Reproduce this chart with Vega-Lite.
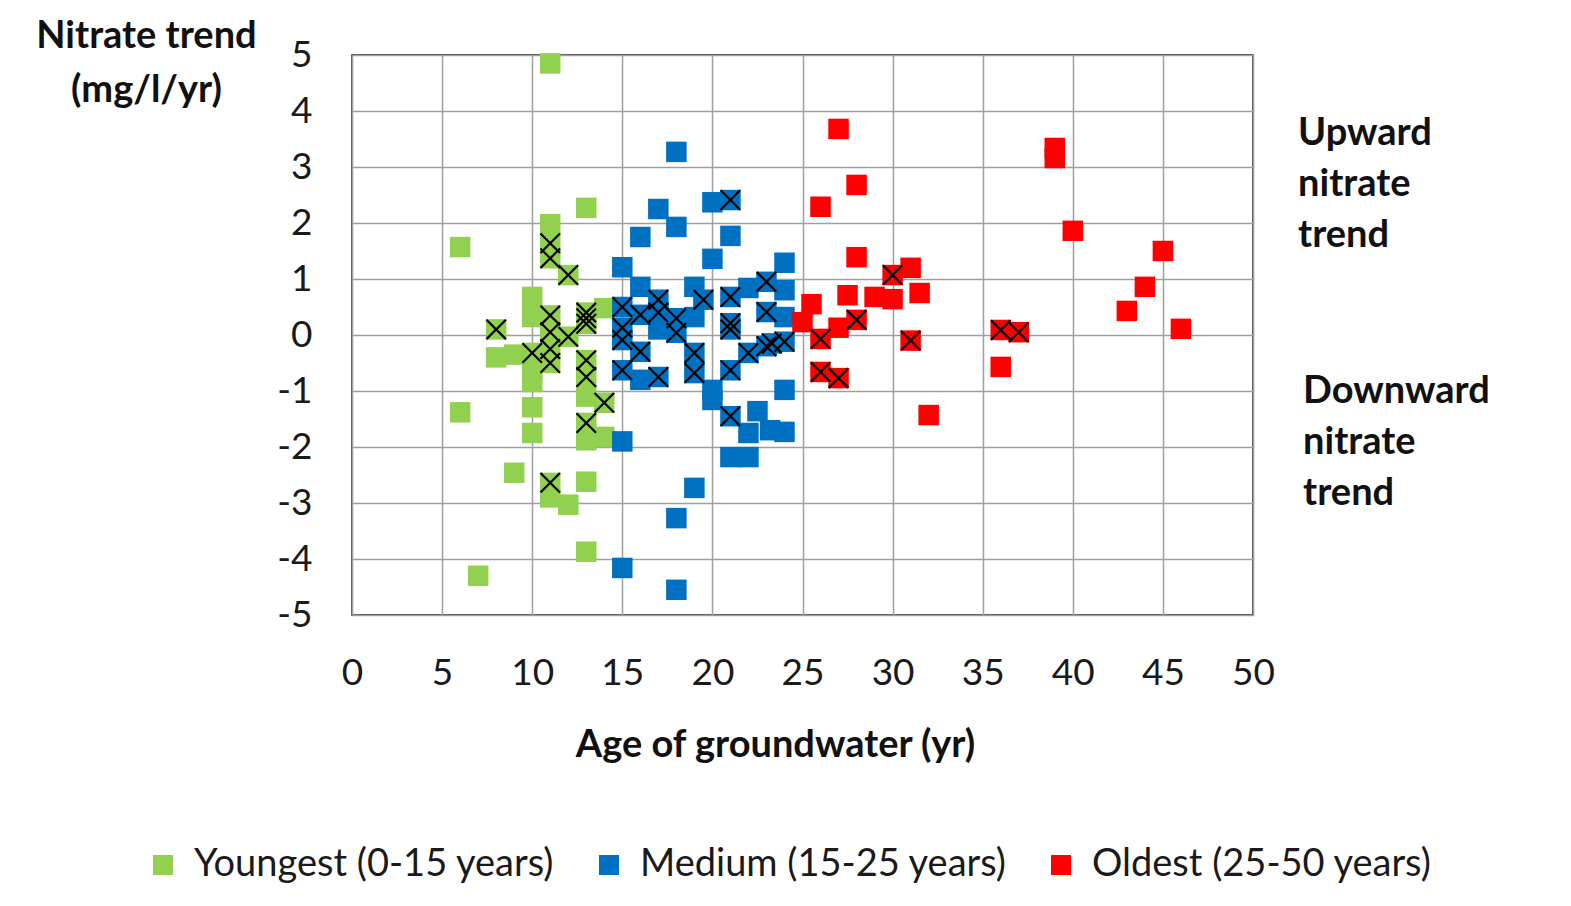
{
  "$schema": "https://vega.github.io/schema/vega-lite/v6.json",
  "width": 901,
  "height": 560,
  "autosize": {"type": "none"},
  "padding": {"left": 352, "top": 55, "right": 318, "bottom": 291},
  "background": "white",
  "config": {
    "font": "Lato",
    "view": {"stroke": "#1a1a1a", "strokeWidth": 1.5},
    "axis": {
      "domain": false,
      "ticks": false,
      "tickSize": 0,
      "labelFlush": false,
      "labelOverlap": false,
      "gridColor": "#9e9e9e",
      "gridWidth": 1.5,
      "gridOpacity": 1,
      "labelFont": "Lato",
      "labelFontSize": 37,
      "labelColor": "#1a1a1a",
      "titleFont": "Lato",
      "titleFontWeight": "bold",
      "titleFontSize": 38,
      "titleColor": "#111111"
    }
  },
  "datasets": {
    "pts": [
      {"age": 11, "trend": 4.85, "flag": 0, "group": "Youngest (0-15 years)"},
      {"age": 6, "trend": 1.57, "flag": 0, "group": "Youngest (0-15 years)"},
      {"age": 6, "trend": -1.38, "flag": 0, "group": "Youngest (0-15 years)"},
      {"age": 7, "trend": -4.3, "flag": 0, "group": "Youngest (0-15 years)"},
      {"age": 8, "trend": 0.1, "flag": 1, "group": "Youngest (0-15 years)"},
      {"age": 8, "trend": -0.4, "flag": 0, "group": "Youngest (0-15 years)"},
      {"age": 9, "trend": -0.35, "flag": 0, "group": "Youngest (0-15 years)"},
      {"age": 9, "trend": -2.46, "flag": 0, "group": "Youngest (0-15 years)"},
      {"age": 10, "trend": 0.68, "flag": 0, "group": "Youngest (0-15 years)"},
      {"age": 10, "trend": 0.32, "flag": 0, "group": "Youngest (0-15 years)"},
      {"age": 10, "trend": -0.32, "flag": 1, "group": "Youngest (0-15 years)"},
      {"age": 10, "trend": -0.63, "flag": 0, "group": "Youngest (0-15 years)"},
      {"age": 10, "trend": -0.84, "flag": 0, "group": "Youngest (0-15 years)"},
      {"age": 10, "trend": -1.29, "flag": 0, "group": "Youngest (0-15 years)"},
      {"age": 10, "trend": -1.75, "flag": 0, "group": "Youngest (0-15 years)"},
      {"age": 11, "trend": 1.98, "flag": 0, "group": "Youngest (0-15 years)"},
      {"age": 11, "trend": 1.64, "flag": 1, "group": "Youngest (0-15 years)"},
      {"age": 11, "trend": 1.37, "flag": 1, "group": "Youngest (0-15 years)"},
      {"age": 11, "trend": 0.35, "flag": 1, "group": "Youngest (0-15 years)"},
      {"age": 11, "trend": 0.05, "flag": 1, "group": "Youngest (0-15 years)"},
      {"age": 11, "trend": -0.25, "flag": 1, "group": "Youngest (0-15 years)"},
      {"age": 11, "trend": -0.5, "flag": 1, "group": "Youngest (0-15 years)"},
      {"age": 11, "trend": -2.64, "flag": 1, "group": "Youngest (0-15 years)"},
      {"age": 11, "trend": -2.9, "flag": 0, "group": "Youngest (0-15 years)"},
      {"age": 12, "trend": 1.07, "flag": 1, "group": "Youngest (0-15 years)"},
      {"age": 12, "trend": -0.03, "flag": 1, "group": "Youngest (0-15 years)"},
      {"age": 12, "trend": -3.03, "flag": 0, "group": "Youngest (0-15 years)"},
      {"age": 13, "trend": 2.27, "flag": 0, "group": "Youngest (0-15 years)"},
      {"age": 13, "trend": 0.4, "flag": 1, "group": "Youngest (0-15 years)"},
      {"age": 13, "trend": 0.3, "flag": 1, "group": "Youngest (0-15 years)"},
      {"age": 13, "trend": 0.2, "flag": 1, "group": "Youngest (0-15 years)"},
      {"age": 13, "trend": -0.45, "flag": 1, "group": "Youngest (0-15 years)"},
      {"age": 13, "trend": -0.75, "flag": 1, "group": "Youngest (0-15 years)"},
      {"age": 13, "trend": -1.1, "flag": 0, "group": "Youngest (0-15 years)"},
      {"age": 13, "trend": -1.57, "flag": 1, "group": "Youngest (0-15 years)"},
      {"age": 13, "trend": -1.88, "flag": 0, "group": "Youngest (0-15 years)"},
      {"age": 13, "trend": -2.62, "flag": 0, "group": "Youngest (0-15 years)"},
      {"age": 13, "trend": -3.87, "flag": 0, "group": "Youngest (0-15 years)"},
      {"age": 14, "trend": 0.48, "flag": 0, "group": "Youngest (0-15 years)"},
      {"age": 14, "trend": -1.21, "flag": 1, "group": "Youngest (0-15 years)"},
      {"age": 14, "trend": -1.82, "flag": 0, "group": "Youngest (0-15 years)"},

      {"age": 18, "trend": 3.27, "flag": 0, "group": "Medium (15-25 years)"},
      {"age": 17, "trend": 2.25, "flag": 0, "group": "Medium (15-25 years)"},
      {"age": 18, "trend": 1.93, "flag": 0, "group": "Medium (15-25 years)"},
      {"age": 16, "trend": 1.75, "flag": 0, "group": "Medium (15-25 years)"},
      {"age": 20, "trend": 2.37, "flag": 0, "group": "Medium (15-25 years)"},
      {"age": 21, "trend": 2.41, "flag": 1, "group": "Medium (15-25 years)"},
      {"age": 21, "trend": 1.77, "flag": 0, "group": "Medium (15-25 years)"},
      {"age": 20, "trend": 1.36, "flag": 0, "group": "Medium (15-25 years)"},
      {"age": 15, "trend": 1.21, "flag": 0, "group": "Medium (15-25 years)"},
      {"age": 24, "trend": 1.29, "flag": 0, "group": "Medium (15-25 years)"},
      {"age": 23, "trend": 0.95, "flag": 1, "group": "Medium (15-25 years)"},
      {"age": 24, "trend": 0.8, "flag": 0, "group": "Medium (15-25 years)"},
      {"age": 16, "trend": 0.86, "flag": 0, "group": "Medium (15-25 years)"},
      {"age": 19, "trend": 0.86, "flag": 0, "group": "Medium (15-25 years)"},
      {"age": 19.5, "trend": 0.63, "flag": 1, "group": "Medium (15-25 years)"},
      {"age": 21, "trend": 0.68, "flag": 1, "group": "Medium (15-25 years)"},
      {"age": 22, "trend": 0.84, "flag": 0, "group": "Medium (15-25 years)"},
      {"age": 15, "trend": 0.5, "flag": 1, "group": "Medium (15-25 years)"},
      {"age": 16, "trend": 0.36, "flag": 1, "group": "Medium (15-25 years)"},
      {"age": 17, "trend": 0.63, "flag": 1, "group": "Medium (15-25 years)"},
      {"age": 17, "trend": 0.4, "flag": 1, "group": "Medium (15-25 years)"},
      {"age": 18, "trend": 0.3, "flag": 1, "group": "Medium (15-25 years)"},
      {"age": 18, "trend": 0.04, "flag": 1, "group": "Medium (15-25 years)"},
      {"age": 19, "trend": 0.32, "flag": 0, "group": "Medium (15-25 years)"},
      {"age": 21, "trend": 0.21, "flag": 1, "group": "Medium (15-25 years)"},
      {"age": 21, "trend": 0.1, "flag": 1, "group": "Medium (15-25 years)"},
      {"age": 23, "trend": 0.41, "flag": 1, "group": "Medium (15-25 years)"},
      {"age": 24, "trend": 0.32, "flag": 0, "group": "Medium (15-25 years)"},
      {"age": 15, "trend": 0.13, "flag": 1, "group": "Medium (15-25 years)"},
      {"age": 15, "trend": -0.09, "flag": 1, "group": "Medium (15-25 years)"},
      {"age": 16, "trend": -0.3, "flag": 1, "group": "Medium (15-25 years)"},
      {"age": 19, "trend": -0.32, "flag": 1, "group": "Medium (15-25 years)"},
      {"age": 19, "trend": -0.68, "flag": 1, "group": "Medium (15-25 years)"},
      {"age": 15, "trend": -0.63, "flag": 1, "group": "Medium (15-25 years)"},
      {"age": 17, "trend": -0.75, "flag": 1, "group": "Medium (15-25 years)"},
      {"age": 16, "trend": -0.8, "flag": 0, "group": "Medium (15-25 years)"},
      {"age": 21, "trend": -0.63, "flag": 1, "group": "Medium (15-25 years)"},
      {"age": 22, "trend": -0.32, "flag": 1, "group": "Medium (15-25 years)"},
      {"age": 23, "trend": -0.2, "flag": 1, "group": "Medium (15-25 years)"},
      {"age": 23.3, "trend": -0.15, "flag": 1, "group": "Medium (15-25 years)"},
      {"age": 24, "trend": -0.12, "flag": 1, "group": "Medium (15-25 years)"},
      {"age": 20, "trend": -0.98, "flag": 0, "group": "Medium (15-25 years)"},
      {"age": 20, "trend": -1.16, "flag": 0, "group": "Medium (15-25 years)"},
      {"age": 21, "trend": -1.45, "flag": 1, "group": "Medium (15-25 years)"},
      {"age": 22.5, "trend": -1.36, "flag": 0, "group": "Medium (15-25 years)"},
      {"age": 22, "trend": -1.75, "flag": 0, "group": "Medium (15-25 years)"},
      {"age": 23.2, "trend": -1.7, "flag": 0, "group": "Medium (15-25 years)"},
      {"age": 24, "trend": -1.73, "flag": 0, "group": "Medium (15-25 years)"},
      {"age": 21, "trend": -2.18, "flag": 0, "group": "Medium (15-25 years)"},
      {"age": 22, "trend": -2.18, "flag": 0, "group": "Medium (15-25 years)"},
      {"age": 15, "trend": -1.9, "flag": 0, "group": "Medium (15-25 years)"},
      {"age": 19, "trend": -2.73, "flag": 0, "group": "Medium (15-25 years)"},
      {"age": 18, "trend": -3.27, "flag": 0, "group": "Medium (15-25 years)"},
      {"age": 15, "trend": -4.16, "flag": 0, "group": "Medium (15-25 years)"},
      {"age": 18, "trend": -4.55, "flag": 0, "group": "Medium (15-25 years)"},
      {"age": 24, "trend": -0.98, "flag": 0, "group": "Medium (15-25 years)"},
      {"age": 17, "trend": 0.1, "flag": 0, "group": "Medium (15-25 years)"},

      {"age": 27, "trend": 3.68, "flag": 0, "group": "Oldest (25-50 years)"},
      {"age": 28, "trend": 2.68, "flag": 0, "group": "Oldest (25-50 years)"},
      {"age": 26, "trend": 2.29, "flag": 0, "group": "Oldest (25-50 years)"},
      {"age": 28, "trend": 1.39, "flag": 0, "group": "Oldest (25-50 years)"},
      {"age": 30, "trend": 1.07, "flag": 1, "group": "Oldest (25-50 years)"},
      {"age": 31, "trend": 1.2, "flag": 0, "group": "Oldest (25-50 years)"},
      {"age": 27.5, "trend": 0.71, "flag": 0, "group": "Oldest (25-50 years)"},
      {"age": 29, "trend": 0.68, "flag": 0, "group": "Oldest (25-50 years)"},
      {"age": 30, "trend": 0.64, "flag": 0, "group": "Oldest (25-50 years)"},
      {"age": 31.5, "trend": 0.75, "flag": 0, "group": "Oldest (25-50 years)"},
      {"age": 25.5, "trend": 0.55, "flag": 0, "group": "Oldest (25-50 years)"},
      {"age": 28, "trend": 0.27, "flag": 1, "group": "Oldest (25-50 years)"},
      {"age": 27, "trend": 0.13, "flag": 0, "group": "Oldest (25-50 years)"},
      {"age": 25, "trend": 0.23, "flag": 0, "group": "Oldest (25-50 years)"},
      {"age": 26, "trend": -0.07, "flag": 1, "group": "Oldest (25-50 years)"},
      {"age": 31, "trend": -0.1, "flag": 1, "group": "Oldest (25-50 years)"},
      {"age": 26, "trend": -0.66, "flag": 1, "group": "Oldest (25-50 years)"},
      {"age": 27, "trend": -0.77, "flag": 1, "group": "Oldest (25-50 years)"},
      {"age": 32, "trend": -1.43, "flag": 0, "group": "Oldest (25-50 years)"},
      {"age": 39, "trend": 3.34, "flag": 0, "group": "Oldest (25-50 years)"},
      {"age": 39, "trend": 3.16, "flag": 0, "group": "Oldest (25-50 years)"},
      {"age": 40, "trend": 1.86, "flag": 0, "group": "Oldest (25-50 years)"},
      {"age": 45, "trend": 1.5, "flag": 0, "group": "Oldest (25-50 years)"},
      {"age": 44, "trend": 0.86, "flag": 0, "group": "Oldest (25-50 years)"},
      {"age": 43, "trend": 0.43, "flag": 0, "group": "Oldest (25-50 years)"},
      {"age": 46, "trend": 0.11, "flag": 0, "group": "Oldest (25-50 years)"},
      {"age": 36, "trend": 0.09, "flag": 1, "group": "Oldest (25-50 years)"},
      {"age": 37, "trend": 0.05, "flag": 1, "group": "Oldest (25-50 years)"},
      {"age": 36, "trend": -0.57, "flag": 0, "group": "Oldest (25-50 years)"}
    ],
    "notes": [
      {"age": 52.5, "trend": 3.59, "lines": ["Upward", "nitrate", "trend"]},
      {"age": 52.78, "trend": -1.02, "lines": ["Downward", "nitrate", "trend"]}
    ]
  },
  "layer": [
    {
      "data": {"name": "pts"},
      "mark": {"type": "point", "shape": "square", "filled": true, "opacity": 1, "size": 420, "strokeWidth": 0},
      "encoding": {
        "x": {
          "field": "age", "type": "quantitative",
          "scale": {"domain": [0, 50], "nice": false, "zero": false},
          "axis": {
            "values": [0, 5, 10, 15, 20, 25, 30, 35, 40, 45, 50],
            "labelPadding": 40,
            "labelBaseline": "top",
            "title": "Age of groundwater (yr)",
            "titleX": 423, "titleY": 130,
            "titleAlign": "center", "titleBaseline": "middle"
          }
        },
        "y": {
          "field": "trend", "type": "quantitative",
          "scale": {"domain": [-5, 5], "nice": false, "zero": false},
          "axis": {
            "values": [-5, -4, -3, -2, -1, 0, 1, 2, 3, 4, 5],
            "labelExpr": "datum.value < 0 ? '-' + abs(datum.value) : '' + datum.value",
            "labelPadding": 40,
            "title": ["Nitrate trend", "(mg/l/yr)"],
            "titleAngle": 0,
            "titleX": -206, "titleY": -19,
            "titleAlign": "center", "titleBaseline": "middle",
            "titleLineHeight": 54
          }
        },
        "color": {
          "field": "group", "type": "nominal",
          "scale": {
            "domain": ["Youngest (0-15 years)", "Medium (15-25 years)", "Oldest (25-50 years)"],
            "range": ["#92d050", "#0070c0", "#ff0000"]
          },
          "legend": {
            "title": null,
            "orient": "none",
            "direction": "horizontal",
            "legendX": -208,
            "legendY": 791,
            "symbolType": "square",
            "symbolSize": 400,
            "symbolStrokeWidth": 0,
            "labelFont": "Lato",
            "labelFontSize": 38,
            "labelColor": "#1a1a1a",
            "labelOffset": 12,
            "columnPadding": 35,
            "labelLimit": 600
          }
        }
      }
    },
    {
      "data": {"name": "pts"},
      "transform": [{"filter": "datum.flag == 1"}],
      "mark": {"type": "point", "shape": "M-1,-1L1,1M1,-1L-1,1", "filled": false, "stroke": "#000000", "strokeWidth": 2.2, "size": 380, "opacity": 1},
      "encoding": {
        "x": {"field": "age", "type": "quantitative"},
        "y": {"field": "trend", "type": "quantitative"}
      }
    },
    {
      "data": {"name": "notes"},
      "mark": {"type": "text", "align": "left", "baseline": "middle", "fontSize": 38, "fontWeight": "bold", "lineHeight": 51, "font": "Lato", "color": "#111111"},
      "encoding": {
        "x": {"field": "age", "type": "quantitative"},
        "y": {"field": "trend", "type": "quantitative"},
        "text": {"field": "lines"}
      }
    }
  ]
}
